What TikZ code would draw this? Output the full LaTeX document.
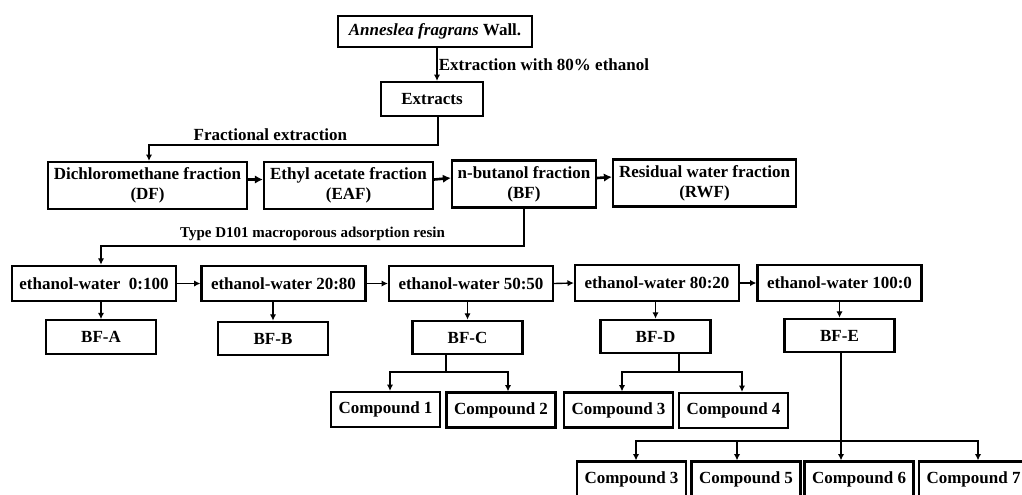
\documentclass[tikz,border=0pt]{standalone}
\usepackage{fontspec}
\setmainfont{Liberation Serif}
\usetikzlibrary{arrows.meta}

\begin{document}
\begin{tikzpicture}[x=0.5pt, y=-0.5pt, >={Latex[length=3.2pt,width=3.2pt]},
  txt/.style={font=\fontsize{8.5}{10}\selectfont\bfseries},
  box/.style={draw, line width=1.1pt, inner sep=0pt, align=center, txt},
  fracbox/.style={box, minimum height=23.5pt},
  ewbox/.style={box, minimum width=82pt, minimum height=17.75pt},
  bfbox/.style={box, minimum width=55pt, minimum height=16.75pt},
  cpbox/.style={box, minimum width=54.5pt, minimum height=17.5pt},
  conn/.style={line width=0.9pt},
  boldconn/.style={line width=1.3pt, -{Latex[length=4pt,width=4.2pt]}},
  thinconn/.style={line width=0.7pt},
  lbl/.style={txt, inner sep=2pt}]

\useasboundingbox (0,0) rectangle (1022,494);

% Draw the extraction steps
\node[box, minimum width=97pt, minimum height=15.5pt] (top) at (435,31.5) {\textit{Anneslea fragrans} Wall.};
\node[box, minimum width=51pt, minimum height=17pt] (ext) at (432,99) {Extracts};
\draw[conn,->] ([xshift=1pt]top.south) -- ([xshift=1pt]top.south |- ext.north)
  node[midway, right, lbl, inner sep=0.5pt] {Extraction with 80\% ethanol};

% the four fractions
\node[fracbox, minimum width=99.5pt] (df) at (147.5,185.5) {Dichloromethane fraction\\(DF)};
\node[fracbox, minimum width=84.5pt] (eaf) at (348.5,185.5) {Ethyl acetate fraction\\(EAF)};
\node[fracbox, minimum width=72pt] (bf) at (524,184) {n-butanol fraction\\(BF)};
\node[fracbox, minimum width=91.5pt] (rwf) at (704.5,183) {Residual water fraction\\(RWF)};
\draw[conn,->] ([xshift=3pt]ext.south) -- ++(0,28) -| ([xshift=0.75pt]df.north)
  node[pos=0.29, above, lbl] {Fractional extraction};
\foreach \a/\b in {df/eaf, eaf/bf, bf/rwf}
  \draw[boldconn] ([yshift=3pt]\a.east) -- ([yshift=3pt]\b.west);

% resin elution
\node[ewbox] (ew0) at (94,283.5) {ethanol-water\ \ 0:100};
\node[ewbox] (ew20) at (283.5,283.5) {ethanol-water 20:80};
\node[ewbox] (ew50) at (471,283.5) {ethanol-water 50:50};
\node[ewbox] (ew80) at (657,283) {ethanol-water 80:20};
\node[ewbox] (ew100) at (839.5,283) {ethanol-water 100:0};
\draw[conn,->] (bf.south) -- ++(0,37) -| ([xshift=3.5pt]ew0.north)
  node[pos=0.25, above, lbl, font=\fontsize{7.5}{9}\selectfont\bfseries] {Type D101 macroporous adsorption resin};
\foreach \a/\b in {ew0/ew20, ew20/ew50, ew50/ew80, ew80/ew100}
  \draw[thinconn,->] (\a.east) -- (\b.west);

% sub-fractions
\node[bfbox] (bfa) at (101,337) {BF-A};
\node[bfbox] (bfb) at (273,338.5) {BF-B};
\node[bfbox] (bfc) at (467.5,337.5) {BF-C};
\node[bfbox] (bfd) at (655.5,336.5) {BF-D};
\node[bfbox] (bfe) at (839.5,335.5) {BF-E};
\foreach \a/\b in {ew0/bfa, ew20/bfb, ew50/bfc, ew80/bfd, ew100/bfe}
  \draw[conn,->] (\b.north |- \a.south) -- (\b.north);

% compounds
\node[cpbox] (c1) at (385.5,409.5) {Compound 1};
\node[cpbox] (c2) at (501,410) {Compound 2};
\node[cpbox] (c3a) at (618.5,410) {Compound 3};
\node[cpbox] (c4) at (733.5,410.5) {Compound 4};
\node[cpbox] (c3b) at (631.5,479) {Compound 3};
\node[cpbox] (c5) at (746,479) {Compound 5};
\node[cpbox] (c6) at (859,479) {Compound 6};
\node[cpbox] (c7) at (973.5,479) {Compound 7};

\coordinate (jc) at (446,372);
\coordinate (jd) at (679,372);
\coordinate (je) at (841,441);

\draw[conn] (jc |- bfc.south) -- (jc);
\draw[conn,->] (jc) -| ([xshift=2.25pt]c1.north);
\draw[conn,->] (jc) -| ([xshift=3.5pt]c2.north);

\draw[conn] (jd |- bfd.south) -- (jd);
\draw[conn,->] (jd) -| ([xshift=1.75pt]c3a.north);
\draw[conn,->] (jd) -| ([xshift=4.25pt]c4.north);

\draw[conn] (je |- bfe.south) -- (je);
\draw[conn,->] (je) -| ([xshift=2.25pt]c3b.north);
\draw[conn,->] (je) -| ([xshift=-4.5pt]c5.north);
\draw[conn,->] (je) -- (je |- c6.north);
\draw[conn,->] (je) -| ([xshift=2.25pt]c7.north);
\end{tikzpicture}
\end{document}
